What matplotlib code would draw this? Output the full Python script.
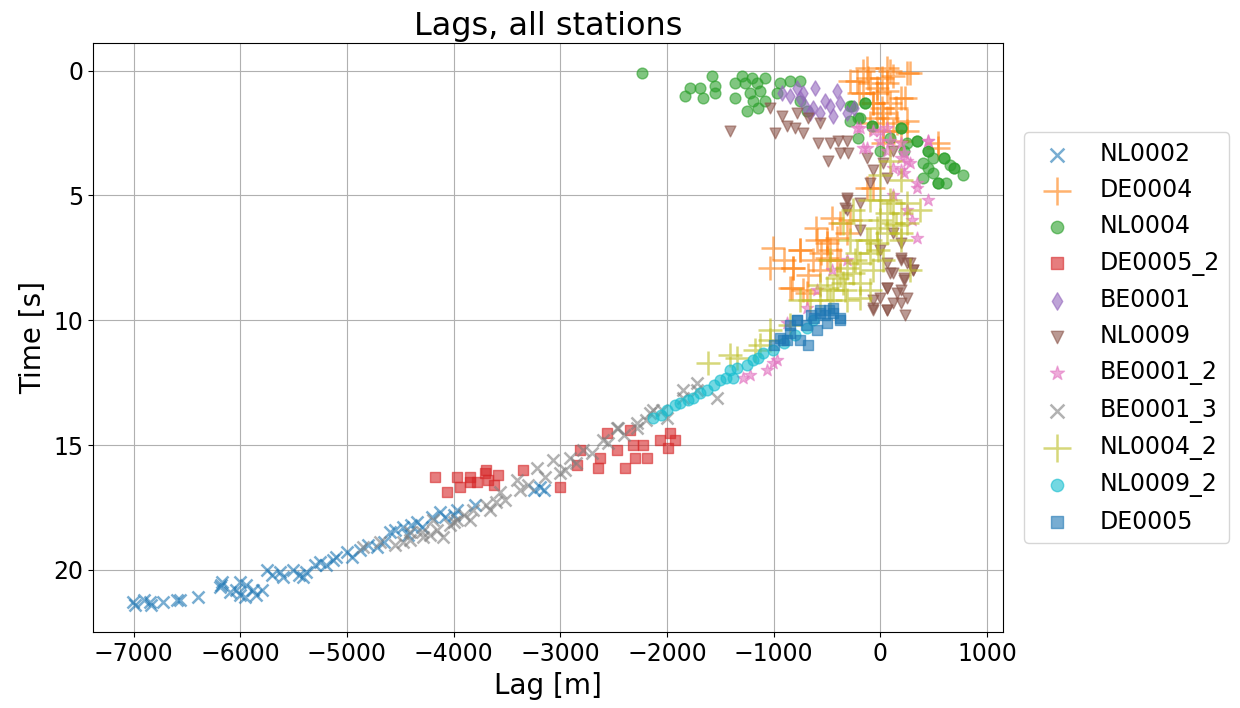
import numpy as np
import matplotlib
matplotlib.use('Agg')
import matplotlib.pyplot as plt

# lag [m], time [s] per station
stations = ['NL0002', 'DE0004', 'NL0004', 'DE0005_2', 'BE0001', 'NL0009',
            'BE0001_2', 'BE0001_3', 'NL0004_2', 'NL0009_2', 'DE0005']

nl0002_lag = [-7008, -6990, -6850, -6840, -6726, -6595, -6560, -6400, -6173, -6190, -6004, -6004, -6040,
              -5960, -5882, -5850, -5750, -5628, -5600, -5506, -5413, -5380, -5253, -5200, -5131, -5000,
              -4950, -4878, -4718, -4650, -4596, -4474, -4430, -4343, -4300, -4128, -4080, -3968, -3250,
              -3189, -3150,
              -6900, -6180, -6100, -5950, -5800, -5700, -5450, -5300, -5100, -4800, -4550, -4400, -4200,
              -4000, -3800]
nl0002_time = [21.3, 21.4, 21.3, 21.4, 21.3, 21.2, 21.2, 21.1, 20.5, 20.7, 20.5, 21.0, 20.8,
               21.1, 20.8, 21.0, 20.0, 20.1, 20.3, 20.0, 20.3, 20.1, 19.7, 19.8, 19.6, 19.3,
               19.5, 19.2, 19.1, 18.9, 18.5, 18.3, 18.6, 18.1, 18.3, 17.7, 17.9, 17.6, 16.8,
               16.7, 16.8,
               21.2, 20.6, 20.9, 20.6, 20.8, 20.2, 20.2, 19.8, 19.5, 19.0, 18.4, 18.2, 17.9,
               17.8, 17.4]

de0004_lag = [-160, 94, 253, -281, -28, 188, -66, 28, 253, 122, 535, -66, -120, 60, -200, 150, 20, -100,
              -750, -816, -844, -722, -497, -375, -1004, -1032, -600, -900, -450, -680, -560,
              -122, 66, 281, -216, -94, 19, 113, -160, -28, 66, 234, -66, 19, 94, -28, 66, 159, 253,
              28, 544, -122, 188,
              -750, -816, -826, -685, -497, -403, -310, -497, -403, -563, -629, -281, -375, -469, -591]
de0004_time = [0.0, 0.0, 0.1, 0.4, 0.7, 1.1, 1.3, 1.7, 2.0, 2.4, 3.1, 4.7, 0.3, 0.5, 0.9, 1.5, 2.9, 2.1,
               7.2, 7.9, 8.7, 8.8, 6.9, 7.6, 7.1, 7.9, 6.3, 7.6, 5.9, 8.2, 7.3,
               -0.1, -0.1, 0.1, 0.4, 0.5, 0.3, 0.2, 0.9, 0.9, 0.8, 1.1, 1.3, 1.5, 1.3, 1.9, 1.9, 2.1, 2.4,
               2.4, 2.9, 4.7, 2.8,
               7.2, 7.9, 8.7, 8.9, 6.8, 6.7, 6.5, 7.5, 7.6, 8.0, 7.6, 6.0, 6.1, 7.2, 6.8]

nl0004_lag = [-2233, -1829, -1782, -1689, -1660, -1576, -1548, -1548, -1360, -1360, -1295, -1266, -1201,
              -1220, -1154, -1126, -1079, -1191, -1079, -1248, -1144, -938, -844, -750, -966, -750, -685,
              -263, -141, -281, -206, -75, 188, 94, 347, 441, 497, 591, 685, 769, 535, 610, 497, -206,
              0, 216, 403, 650,
              -281, -141, -188, -75, 188, 347, 441, 591, 685, 441, 535, 403, 253]
nl0004_time = [0.1, 1.0, 0.7, 0.7, 1.1, 0.2, 0.6, 0.9, 0.5, 1.1, 0.2, 0.5, 0.3,
               0.9, 0.5, 0.8, 0.3, 1.2, 1.2, 1.6, 1.5, 0.5, 0.4, 0.4, 0.9, 1.2, 1.6,
               1.4, 1.3, 2.0, 1.9, 2.2, 2.3, 2.7, 2.8, 3.2, 3.5, 3.5, 3.9, 4.2, 4.5, 4.5, 4.1, 2.7,
               3.2, 3.2, 3.7, 3.8,
               1.4, 1.3, 1.9, 2.2, 2.3, 2.8, 3.2, 3.5, 3.9, 3.9, 4.5, 4.3, 2.9]

de0005_2_lag = [-4174, -4062, -3968, -3940, -3846, -3846, -3780, -3705, -3677, -3583, -3349, -3002,
                -2814, -2627, -2645, -2561, -2467, -2392, -2345, -2317, -2298, -2223, -2186, -2064,
                -1970, -1923, -1989, -2842, -3700, -3620]
de0005_2_time = [16.3, 16.9, 16.3, 16.7, 16.3, 16.5, 16.5, 16.1, 16.4, 16.2, 16.0, 16.7,
                 15.2, 15.5, 15.9, 14.5, 15.2, 15.9, 14.4, 15.0, 15.5, 15.0, 15.5, 14.8,
                 14.5, 14.8, 15.1, 15.8, 16.0, 16.6]

be0001_lag = [-919, -779, -722, -610, -403, -704, -629, -563, -469, -441, -310, -516, -375, -750, -657,
              -850, -250]
be0001_time = [0.9, 0.7, 0.9, 0.7, 0.8, 1.4, 1.5, 1.7, 1.4, 1.8, 1.7, 1.2, 1.3, 1.1, 1.7,
               1.0, 1.5]

nl0009_lag = [-1407, -1032, -985, -919, -872, -779, -797, -722, -675, -582, -563, -488, -469, -394, -375,
              -300, -310, -122, -66, -94, 28, 66, -310, -328, 122,
              188, 281, 94, 216, 66, -66, -66, 66, 188, 309, 159, -188, -310, 0, 234, 120,
              66, 188, 253, 309, 122, 216, 66, 188, 253, 0, 122, -66, 66, 188, -310, -188]
nl0009_time = [2.4, 1.5, 2.5, 1.8, 2.2, 1.7, 2.3, 2.5, 1.9, 2.9, 2.1, 3.6, 2.9, 2.8, 3.3,
               3.3, 2.8, 3.5, 4.0, 4.5, 3.7, 4.3, 5.1, 5.5, 3.2,
               7.6, 7.7, 8.1, 8.3, 8.7, 9.2, 9.6, 9.6, 9.3, 8.0, 8.9, 6.4, 5.6, 7.2, 9.8, 6.5,
               7.7, 7.5, 7.7, 8.0, 8.1, 8.4, 8.7, 8.8, 9.1, 9.1, 9.3, 9.5, 9.6, 6.9, 5.2, 5.3]

be0001_2_lag = [-160, 0, 94, 216, 281, 450, 347, 441, 253, 347, 188, -188, 66,
                -310, -591, -685, -1285, -1220, -1060, -966, -872, -1004, 120, 300, -450,
                -216, -66, 0, 66, 188, 122, 253, 216, 347, 441, -122, 188]
be0001_2_time = [3.1, 2.4, 2.8, 3.3, 3.7, 2.8, 4.7, 5.2, 5.6, 6.7, 4.0, 2.3, 2.3,
                 7.6, 8.8, 9.5, 12.3, 12.2, 12.0, 11.6, 10.1, 11.7, 5.0, 6.0, 8.0,
                 2.3, 2.4, 2.8, 3.2, 3.5, 3.9, 3.6, 4.1, 4.5, 2.8, 3.1, 2.9]

be0001_3_lag = [-4850, -4690, -4474, -4409, -4287, -4156, -4099, -3968, -3818, -4193,
                -3565, -3405, -3218, -3068, -2908, -2786, -2598, -2467, -2280, -2158, -1998, -1848, -1717,
                -1848, -1717, -1529, -2129, -2280, -2458,
                -4550, -4409, -4221, -4034, -3846, -3658, -3518, -3377, -3143, -2955,
                -4300, -4000, -3900, -3700, -3600, -3300, -3000, -2850, -2700, -2550, -2400, -2200, -2050]
be0001_3_time = [19.1, 18.9, 18.9, 18.5, 18.7, 18.4, 18.7, 18.0, 17.6, 18.0,
                 16.9, 16.4, 15.9, 15.6, 15.5, 15.2, 14.8, 14.3, 14.1, 13.7, 13.9, 13.1, 12.8,
                 12.8, 12.5, 13.1, 13.6, 14.3, 14.3,
                 19.0, 18.8, 18.6, 18.2, 18.0, 17.6, 17.2, 16.8, 16.3, 16.0,
                 18.5, 18.1, 17.8, 17.4, 17.3, 16.6, 16.1, 15.7, 15.3, 14.9, 14.6, 14.0, 13.6]

nl0004_2_lag = [-1614, -1341, -1173, -1032, -844, -657, -563, -375, -235, -94, 0, 94, 188, 375, -188,
                -94, 0, 94, -469, -281, 188, 281, -750, -469, -1032, -1126, -1407, -20, 150, -330,
                -563, -441, -347, -253, -188, -94, -28, 66, 122, 188, 253, -310, -216, -122, -28, 66,
                122, -188, -66, 28, -403, -497, -310, -188, 253, -94, 188, 0, -347, -253]
nl0004_2_time = [11.7, 11.5, 11.2, 10.8, 10.2, 9.2, 8.6, 8.2, 7.6, 6.8, 6.0, 5.2, 4.4, 5.6, 6.0,
                 5.2, 4.2, 3.6, 7.6, 6.8, 6.8, 8.0, 9.2, 9.2, 10.4, 11.0, 11.4, 7.2, 6.2, 8.8,
                 9.2, 8.8, 8.5, 8.1, 7.7, 7.3, 6.9, 6.5, 6.1, 5.7, 5.3, 7.9, 7.3, 6.8, 6.3, 5.7,
                 5.3, 8.5, 8.0, 7.6, 8.3, 8.7, 9.2, 9.1, 6.1, 8.8, 6.5, 5.2, 6.1, 5.6]

nl0009_2_lag = [-2129, -1998, -1876, -1754, -1623, -1501, -1407, -1341, -1191, -1098, -1004, -685, -629,
                -1379, -2060, -1930, -1690, -1560, -1250, -900, -1800, -1450, -1150, -800]
nl0009_2_time = [13.9, 13.6, 13.3, 13.1, 12.8, 12.4, 12.0, 11.9, 11.6, 11.3, 11.2, 10.3, 10.0,
                 12.3, 13.8, 13.4, 12.9, 12.6, 11.8, 10.9, 13.2, 12.3, 11.5, 10.6]

de0005_lag = [-938, -844, -779, -750, -675, -563, -497, -441, -375, -591, -872, -563, -441, -375, -779,
              -910, -620, -520, -850, -700, -650, -480, -1000]
de0005_time = [10.7, 10.5, 10.0, 10.8, 11.0, 9.7, 10.1, 9.7, 10.0, 10.4, 10.8, 9.6, 9.5, 9.9, 10.0,
               10.8, 9.9, 9.8, 10.2, 10.2, 9.8, 9.6, 11.0]

lags = [nl0002_lag, de0004_lag, nl0004_lag, de0005_2_lag, be0001_lag, nl0009_lag,
        be0001_2_lag, be0001_3_lag, nl0004_2_lag, nl0009_2_lag, de0005_lag]
times = [nl0002_time, de0004_time, nl0004_time, de0005_2_time, be0001_time, nl0009_time,
         be0001_2_time, be0001_3_time, nl0004_2_time, nl0009_2_time, de0005_time]

markers = ['x', '+', 'o', 's', 'd', 'v', '*', 'x', '+', 'o', 's']
sizes = [75, 320, 60, 55, 60, 60, 85, 75, 320, 60, 55]
colors = ['tab:blue', 'tab:orange', 'tab:green', 'tab:red', 'tab:purple', 'tab:brown',
          'tab:pink', 'tab:gray', 'tab:olive', 'tab:cyan', 'tab:blue']

fig = plt.figure(figsize=(12.4, 7.08), dpi=100)
ax = fig.add_axes([0.075, 0.107, 0.734, 0.832])

for name, x, y, m, s, c in zip(stations, lags, times, markers, sizes, colors):
    lw = 1.8 if m in ('x', '+') else 1.0
    ax.scatter(x, y, marker=m, s=s, color=c, alpha=0.6, linewidths=lw, label=name)

ax.set_xlim(-7380, 1150)
ax.set_ylim(22.5, -1.1)
ax.grid(True)
ax.set_axisbelow(True)
ax.tick_params(labelsize=17)
ax.set_xlabel('Lag [m]', fontsize=20)
ax.set_ylabel('Time [s]', fontsize=20)
ax.set_title('Lags, all stations', fontsize=23)
ax.legend(loc='center left', bbox_to_anchor=(1.01, 0.5), fontsize=17, markerscale=1.15,
          labelspacing=0.52)

fig.savefig('out.png', dpi=100)
